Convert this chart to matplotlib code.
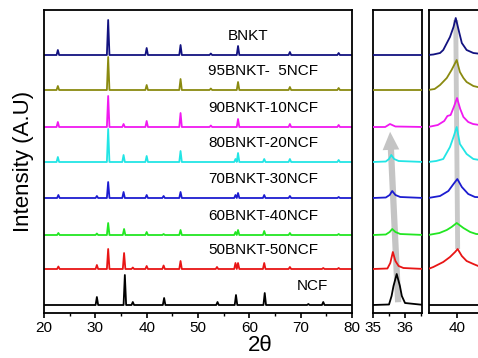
import matplotlib
matplotlib.use('Agg')
import matplotlib.pyplot as plt
from matplotlib.ticker import MultipleLocator

# samples, bottom trace first
labels = ['NCF', '50BNKT-50NCF', '60BNKT-40NCF', '70BNKT-30NCF',
          '80BNKT-20NCF', '90BNKT-10NCF', '95BNKT-  5NCF', 'BNKT']

# wide scan 20-80: reflection position (2theta) and height above baseline (a.u.)
ncf_pos = [30.3, 35.75, 37.3, 43.4, 53.8, 57.4, 63.0, 71.5, 74.4]
ncf_int = [8, 30, 3, 7, 3, 10, 12, 1, 3]
b50_pos = [22.8, 30.3, 32.5, 35.6, 37.3, 40.0, 43.3, 46.6, 53.7, 57.3, 57.8, 62.9, 67.9, 74.4, 77.4]
b50_int = [2.5, 4, 20, 16, 1.5, 3, 3.5, 8, 2, 6, 6, 6, 2, 1, 1]
b60_pos = [22.8, 30.3, 32.5, 35.6, 40.0, 43.3, 46.6, 57.3, 57.8, 62.9, 67.9, 77.4]
b60_int = [2, 1.5, 12, 6, 3, 1, 5, 3, 5, 4, 2, 1]
b70_pos = [22.8, 30.3, 32.5, 35.5, 40.0, 43.3, 46.6, 57.3, 57.8, 62.9, 67.9, 77.4]
b70_int = [3, 2, 16, 6, 3, 2, 6, 3, 5, 3, 2, 1]
b80_pos = [22.7, 32.5, 35.5, 40.0, 46.6, 57.3, 57.8, 62.9, 67.9, 77.4]
b80_int = [5, 33, 7, 6, 11, 3, 9, 3, 3, 2]
b90_pos = [22.7, 32.5, 35.5, 40.0, 46.6, 52.5, 57.8, 67.9, 77.4]
b90_int = [5, 31, 3, 6, 14, 1.5, 8, 3, 2]
b95_pos = [22.7, 32.5, 40.0, 46.6, 52.5, 57.8, 67.9, 77.4]
b95_int = [4, 33, 5, 11, 1.5, 8, 3, 2]
bnkt_pos = [22.7, 32.5, 40.0, 46.6, 52.5, 57.8, 67.9, 77.4]
bnkt_int = [5, 35, 7, 10, 1.5, 9, 3, 2]

# slow scan around 35.5 deg (x, intensity), same sample order
z35_x = [[35.0, 35.5, 35.58, 35.64, 35.74, 35.84, 35.9, 36.0, 36.6],
         [35.0, 35.45, 35.54, 35.62, 35.7, 35.8, 35.95, 36.6],
         [35.0, 35.4, 35.52, 35.6, 35.7, 35.85, 36.6],
         [35.0, 35.4, 35.52, 35.6, 35.7, 35.85, 36.6],
         [35.0, 35.4, 35.5, 35.57, 35.66, 35.8, 36.6],
         [35.0, 35.38, 35.53, 35.7, 36.6],
         [35.0, 36.6],
         [35.0, 36.6]]
z35_y = [[0, 0.5, 9, 19, 31, 19, 9, 2, 0],
         [0, 0.5, 6, 17, 8, 3, 1, 0],
         [0, 0.5, 3, 6, 3, 1, 0],
         [0, 0.5, 3, 7, 3, 1, 0],
         [0, 0.5, 3, 7, 3, 1, 0],
         [0, 0, 3, 0.5, 0],
         [0, 0],
         [0, 0]]

# slow scan around 40 deg
z40_x = [[39.1, 40.9],
         [39.1, 39.26, 39.57, 39.78, 39.94, 40.02, 40.15, 40.3, 40.51, 40.66, 40.9],
         [39.1, 39.45, 39.68, 39.83, 39.99, 40.2, 40.41, 40.6, 40.9],
         [39.1, 39.47, 39.73, 39.89, 40.01, 40.15, 40.35, 40.56, 40.9],
         [39.1, 39.35, 39.57, 39.78, 39.89, 39.99, 40.09, 40.3, 40.51, 40.9],
         [39.1, 39.4, 39.6, 39.7, 39.8, 39.9, 40.0, 40.1, 40.2, 40.35, 40.5, 40.9],
         [39.1, 39.3, 39.47, 39.68, 39.83, 39.99, 40.09, 40.2, 40.3, 40.51, 40.9],
         [39.1, 39.26, 39.47, 39.57, 39.78, 39.89, 39.96, 40.05, 40.15, 40.3, 40.51, 40.9]]
z40_y = [[0, 0],
         [0, 2, 7, 12, 17, 20, 13, 8, 5, 3, 2],
         [0, 2, 5, 8, 12, 7, 3, 1, 0.5],
         [0, 2, 7, 14, 19, 11, 4, 1, 0.5],
         [0, 1, 3, 15, 25, 35, 18, 8, 3, 1],
         [0, 2, 6, 11, 12, 20, 29, 18, 10, 5, 3, 1],
         [0, 1, 5, 12, 20, 30, 18, 12, 8, 4, 1],
         [0, 0.5, 2, 5, 18, 28, 37, 25, 12, 5, 2, 0.5]]

main_pos = [ncf_pos, b50_pos, b60_pos, b70_pos, b80_pos, b90_pos, b95_pos, bnkt_pos]
main_int = [ncf_int, b50_int, b60_int, b70_int, b80_int, b90_int, b95_int, bnkt_int]

colors = ['black', '#e81515', '#22e622', '#1c1cd0',
          '#22e5e5', '#f019f0', '#8a8a10', '#121280']
offsets = [8, 44, 78, 115, 151, 186, 223, 258]
label_x = [69.3, 52, 52, 52, 52, 52, 52, 55.8]


def stick_profile(pos, hgt, lo, hi, hw=0.25):
    xs, ys = [lo], [0]
    for p, h in sorted(zip(pos, hgt)):
        xs += [p - hw, p, p + hw]
        ys += [0, h, 0]
    xs.append(hi)
    ys.append(0)
    return xs, ys


def style_axis(ax):
    for s in ax.spines.values():
        s.set_linewidth(1.3)
    ax.set_yticks([])
    ax.set_ylim(0, 303)
    ax.tick_params(axis='x', which='major', direction='out', length=3.5,
                   width=1.2, labelsize=11, pad=2.5)
    ax.tick_params(axis='x', which='minor', direction='out', length=2,
                   width=1.0)


def main():
    plt.rcParams['font.family'] = ['Liberation Sans', 'DejaVu Sans']
    fig = plt.figure(figsize=(4.78, 3.58), dpi=100)

    bot, hgt = 45 / 358, 303 / 358
    ax1 = fig.add_axes([44 / 478, bot, 308 / 478, hgt])
    ax2 = fig.add_axes([373 / 478, bot, 49 / 478, hgt])
    ax3 = fig.add_axes([429 / 478, bot, 53 / 478, hgt])

    for i in range(len(labels)):
        xs, ys = stick_profile(main_pos[i], main_int[i], 20, 80)
        ax1.plot(xs, [y + offsets[i] for y in ys], color=colors[i], lw=1.3)
        ax1.text(label_x[i], offsets[i] + 19, labels[i], fontsize=11,
                 va='center', ha='left')
        ax2.plot(z35_x[i], [y + offsets[i] for y in z35_y[i]],
                 color=colors[i], lw=1.3, zorder=3)
        ax3.plot(z40_x[i], [y + offsets[i] for y in z40_y[i]],
                 color=colors[i], lw=1.3, zorder=3)

    ax1.set_xlim(20, 80)
    ax1.xaxis.set_major_locator(MultipleLocator(10))
    ax1.xaxis.set_minor_locator(MultipleLocator(5))

    ax2.set_xlim(35, 36.53)
    ax2.xaxis.set_major_locator(MultipleLocator(1))
    ax2.xaxis.set_minor_locator(MultipleLocator(0.5))

    ax3.set_xlim(39.125, 40.78)
    ax3.set_xticks([40])

    for ax in (ax1, ax2, ax3):
        style_axis(ax)

    # peak shift arrow: from NCF apex up to the 90BNKT-10NCF peak
    ncf_top = z35_x[0][z35_y[0].index(max(z35_y[0]))]
    b90_top = z35_x[5][z35_y[5].index(max(z35_y[5]))]
    ax2.annotate('', xy=(b90_top, offsets[5] - 2), xytext=(ncf_top + 0.05, offsets[0]),
                 arrowprops=dict(arrowstyle='simple,head_width=1.2,head_length=1.3,tail_width=0.45',
                                 color='#c4c4c4', lw=0), zorder=1)

    # guide line through the 40 deg reflection apexes
    top_i, low_i = 7, 1
    x_top = z40_x[top_i][z40_y[top_i].index(max(z40_y[top_i]))]
    x_low = z40_x[low_i][z40_y[low_i].index(max(z40_y[low_i]))]
    ax3.plot([x_top, x_low], [offsets[top_i] + max(z40_y[top_i]) - 2,
                              offsets[low_i] + max(z40_y[low_i])],
             color='#c8c8c8', lw=3.5, zorder=1, solid_capstyle='butt')

    fig.text(24 / 478, 197 / 358, 'Intensity (A.U)', rotation=90,
             fontsize=16, ha='center', va='center')
    fig.text(260 / 478, 2 / 358, '2\u03b8', fontsize=16,
             ha='center', va='bottom')

    fig.savefig('out.png', dpi=100)


if __name__ == "__main__":
    main()
